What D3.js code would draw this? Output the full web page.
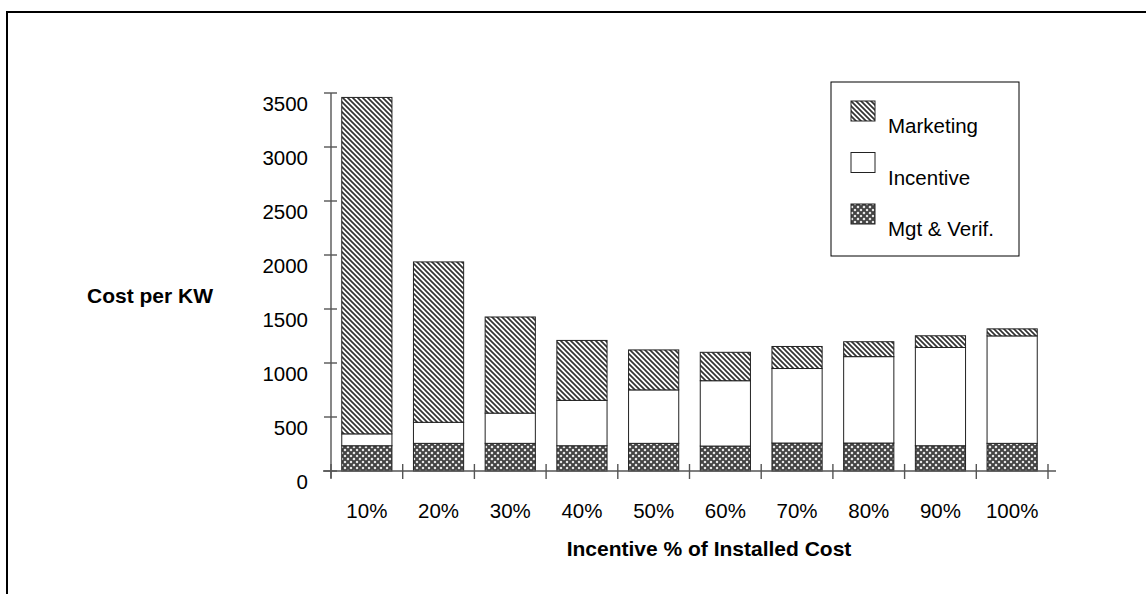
<!DOCTYPE html>
<html>
<head>
<meta charset="utf-8">
<script src="https://cdn.jsdelivr.net/npm/d3@7"></script>
<style>
  html, body { margin: 0; padding: 0; background: #fff; }
  svg { display: block; font-family: "Liberation Sans", Arial, sans-serif; }
</style>
</head>
<body>
<svg id="chart" width="1146" height="594"></svg>
<script>
// Incentive level as a share of installed cost
const categories = ["10%", "20%", "30%", "40%", "50%", "60%", "70%", "80%", "90%", "100%"];
// Stacked cost components, $ per KW (bottom to top)
const mgtVerif  = [234, 256, 256, 234, 256, 231, 259, 259, 234, 256];
const incentive = [110, 195, 280, 420, 495, 605, 690, 800, 910, 995];
const marketing = [3115, 1485, 890, 555, 370, 263, 204, 138, 108, 65];
const yTicks = [0, 500, 1000, 1500, 2000, 2500, 3000, 3500];
const seriesNames = ["Mgt & Verif.", "Incentive", "Marketing"];

const svg = d3.select("#chart");

// outer frame
svg.append("rect")
  .attr("x", 7).attr("y", 12).attr("width", 1200).attr("height", 700)
  .attr("fill", "none").attr("stroke", "#000").attr("stroke-width", 2);

// fill patterns
const defs = svg.append("defs");
const hatch = defs.append("pattern")
  .attr("id", "pat-marketing").attr("patternUnits", "userSpaceOnUse")
  .attr("width", 5).attr("height", 5);
hatch.append("rect").attr("width", 5).attr("height", 5).attr("fill", "#fff");
hatch.append("path")
  .attr("d", "M-1,-1 L6,6 M-1,4 L1,6 M4,-1 L6,1")
  .attr("stroke", "#333").attr("stroke-width", 1.7);

const cross = defs.append("pattern")
  .attr("id", "pat-mgt").attr("patternUnits", "userSpaceOnUse")
  .attr("width", 6).attr("height", 6);
cross.append("rect").attr("width", 6).attr("height", 6).attr("fill", "#fff");
cross.append("path")
  .attr("d", "M-1,-1 L7,7 M7,-1 L-1,7")
  .attr("stroke", "#444").attr("stroke-width", 2.2);

const fills = {
  "Mgt & Verif.": "url(#pat-mgt)",
  "Incentive": "#fff",
  "Marketing": "url(#pat-marketing)"
};

const x = d3.scaleBand().domain(categories).range([331, 1048]).padding(0);
const y = d3.scaleLinear().domain([0, 3500]).range([471, 93]);

const rows = categories.map((c, i) => ({
  cat: c,
  "Mgt & Verif.": mgtVerif[i],
  "Incentive": incentive[i],
  "Marketing": marketing[i]
}));
const stacked = d3.stack().keys(seriesNames)(rows);

const barW = x.bandwidth() * 0.70;
const g = svg.append("g");
stacked.forEach(layer => {
  g.selectAll(null).data(layer).enter().append("rect")
    .attr("x", d => x(d.data.cat) + (x.bandwidth() - barW) / 2)
    .attr("y", d => y(d[1]))
    .attr("width", barW)
    .attr("height", d => y(d[0]) - y(d[1]))
    .attr("fill", fills[layer.key])
    .attr("stroke", "#222").attr("stroke-width", 1);
});

// axes
const axisColor = "#555";
const ax = svg.append("g").attr("stroke", axisColor).attr("stroke-width", 1.4);
ax.append("line").attr("x1", x.range()[0]).attr("x2", x.range()[0])
  .attr("y1", y(3500)).attr("y2", y(0) + 7);
ax.append("line").attr("x1", x.range()[0] - 8).attr("x2", x.range()[1] + 8)
  .attr("y1", y(0)).attr("y2", y(0));
yTicks.forEach(t => {
  ax.append("line").attr("x1", x.range()[0] - 7).attr("x2", x.range()[0] + 6)
    .attr("y1", y(t)).attr("y2", y(t));
});
const xEdges = categories.map(c => x(c)).concat([x.range()[1]]);
xEdges.forEach(px => {
  ax.append("line").attr("x1", px).attr("x2", px)
    .attr("y1", y(0) - 7).attr("y2", y(0) + 8);
});

// tick labels
svg.append("g").selectAll("text").data(yTicks).enter().append("text")
  .attr("x", 308).attr("y", d => y(d) + 18)
  .attr("text-anchor", "end").attr("font-size", 20.5).attr("fill", "#000")
  .text(d => d);
svg.append("g").selectAll("text").data(categories).enter().append("text")
  .attr("x", d => x(d) + x.bandwidth() / 2).attr("y", 518)
  .attr("text-anchor", "middle").attr("font-size", 20.5).attr("fill", "#000")
  .text(d => d);

// axis titles
svg.append("text").attr("x", 87).attr("y", 303)
  .attr("font-size", 21).attr("font-weight", "bold").text("Cost per KW");
svg.append("text").attr("x", 709).attr("y", 556).attr("text-anchor", "middle")
  .attr("font-size", 21).attr("font-weight", "bold").text("Incentive % of Installed Cost");

// legend
const lg = svg.append("g");
lg.append("rect").attr("x", 831).attr("y", 82).attr("width", 188).attr("height", 174)
  .attr("fill", "#fff").attr("stroke", "#000").attr("stroke-width", 1);
const legendItems = ["Marketing", "Incentive", "Mgt & Verif."];
legendItems.forEach((name, i) => {
  const top = 101 + i * 51.5;
  lg.append("rect").attr("x", 851).attr("y", top).attr("width", 24).attr("height", 20)
    .attr("fill", fills[name]).attr("stroke", "#222").attr("stroke-width", 1);
  lg.append("text").attr("x", 888).attr("y", top + 32)
    .attr("font-size", 20.5).attr("fill", "#000").text(name);
});
</script>
</body>
</html>
